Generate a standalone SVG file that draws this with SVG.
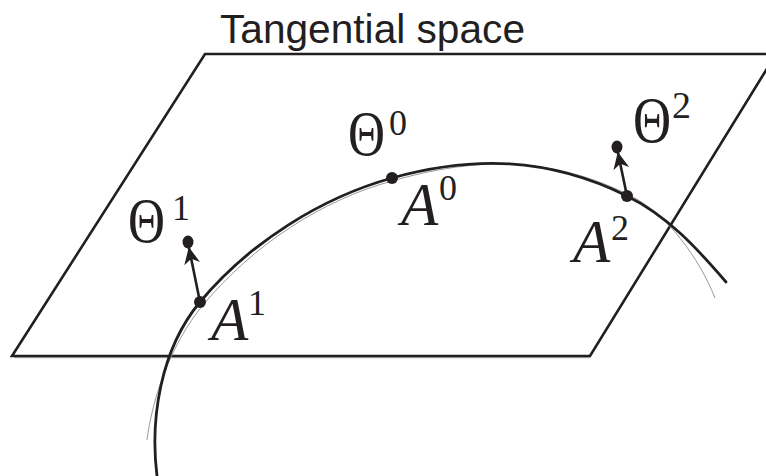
<svg xmlns="http://www.w3.org/2000/svg" width="766" height="476" viewBox="0 0 766 476">
  <style>
    .edge { fill: none; stroke: #231f20; stroke-width: 2.6; stroke-linejoin: miter; }
    .curve { fill: none; stroke: #231f20; stroke-width: 2.8; stroke-linecap: round; }
    .ghost { fill: none; stroke: #9a9a9a; stroke-width: 1; }
    .dot { fill: #231f20; }
    .arrow { fill: none; stroke: #231f20; stroke-width: 2.6; marker-end: url(#head); }
    .math { font-family: "Liberation Serif", "DejaVu Serif", serif; fill: #231f20; }
    .it { font-style: italic; }
    .title { font-family: "Liberation Sans", Arial, sans-serif; fill: #231f20; }
  </style>
  <defs>
    <marker id="head" viewBox="-17 -9 19 18" refX="0" refY="0" markerWidth="19" markerHeight="18" markerUnits="userSpaceOnUse" orient="auto">
      <path d="M1,0 L-16,-8 L-11,0 L-16,8 Z" fill="#231f20"/>
    </marker>
  </defs>

  <rect width="766" height="476" fill="#ffffff"/>

  <text class="title" x="220" y="43" font-size="41" textLength="305" lengthAdjust="spacingAndGlyphs">Tangential space</text>

  <g id="plane">
    <line x1="14" y1="357.5" x2="590" y2="357.5" stroke="#bdbdbd" stroke-width="1.5"/>
    <path class="edge" d="M205,54 L776,54 L590,356 L12,356 Z"/>
  </g>

  <g id="manifold">
    <path class="ghost" d="M147,440 C152,400 170,345 203,305 C253,245 322,200 392,181 C472,158 547,155 627,194 C667,212 700,260 715,298"/>
    <path class="curve" d="M157,476 C150,420 160,350 200,302 C250,242 322,197.5 392,178 C472,156 547,156.6 627,196 C667,215.7 696,247 726,282"/>
  </g>

  <g id="connectors">
    <path class="arrow" d="M200,302 L189,248"/>
    <path class="arrow" d="M627,196 L618,153"/>
  </g>

  <g id="A0">
    <circle class="dot" cx="392" cy="178" r="6"/>
    <text class="math it" x="401" y="225" font-size="61">A</text>
    <text class="math" x="439" y="200" font-size="36">0</text>
  </g>
  <g id="A1">
    <circle class="dot" cx="200" cy="302" r="6"/>
    <text class="math it" x="211" y="340" font-size="61">A</text>
    <text class="math" x="248" y="315" font-size="36">1</text>
  </g>
  <g id="A2">
    <circle class="dot" cx="627" cy="196" r="6"/>
    <text class="math it" x="573" y="262" font-size="61">A</text>
    <text class="math" x="611" y="240" font-size="36">2</text>
  </g>

  <g id="Theta0">
    <text class="math" transform="translate(348,155) scale(0.8,1)" x="0" y="0" font-size="64">&#x398;</text>
    <text class="math" x="389" y="135" font-size="36">0</text>
  </g>
  <g id="Theta1">
    <ellipse class="dot" cx="188" cy="242" rx="5.5" ry="6.5"/>
    <text class="math" transform="translate(128,242) scale(0.8,1)" x="0" y="0" font-size="64">&#x398;</text>
    <text class="math" x="172" y="220" font-size="36">1</text>
  </g>
  <g id="Theta2">
    <ellipse class="dot" cx="617" cy="147" rx="5.5" ry="6.5"/>
    <text class="math" transform="translate(633,142) scale(0.8,1)" x="0" y="0" font-size="66">&#x398;</text>
    <text class="math" x="672" y="118" font-size="38">2</text>
  </g>
</svg>
